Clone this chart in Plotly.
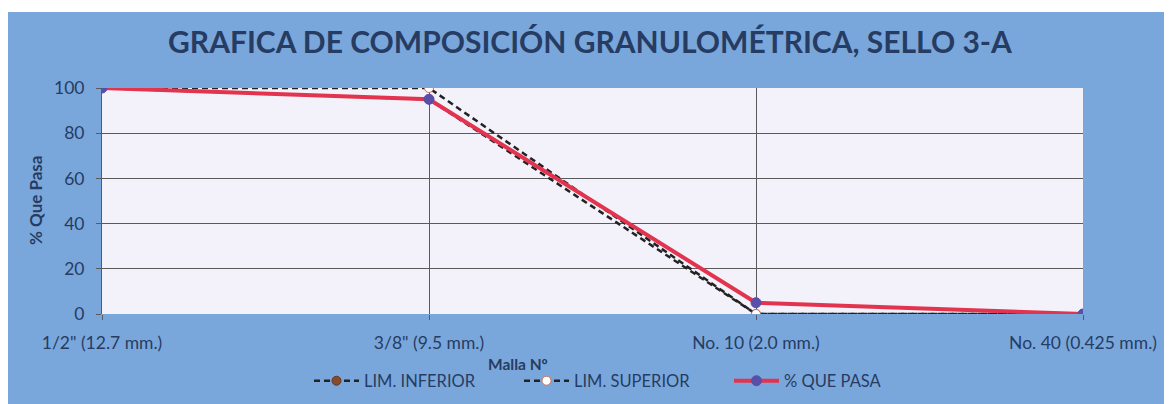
import plotly.graph_objects as go

categories = ['1/2" (12.7 mm.)', '3/8" (9.5 mm.)', 'No. 10 (2.0 mm.)', 'No. 40 (0.425 mm.)']
lim_inferior = [100, 95, 0, 0]
lim_superior = [100, 100, 0, 0]
que_pasa = [100, 95, 5, 0]
y_ticks = [0, 20, 40, 60, 80, 100]

# figure is placed by the page at (8, 8); sizes below are figure pixels
W, H = 1164, 396
ML, MR, MT, MB = 94, 89, 80, 90
PW, PH = W - ML - MR, H - MT - MB

BLUE = "#7aa7db"
NAVY = "#263c62"
FONT = "Lato"

xs = list(range(len(categories)))

fig = go.Figure()
fig.add_trace(go.Scatter(
    x=xs, y=lim_inferior, name="LIM. INFERIOR", mode="lines+markers",
    line=dict(color="#222222", width=2.5, dash="6px,4px"),
    marker=dict(color="#8a4b2a", size=9, line=dict(color="#5a3a2a", width=1)),
    legendrank=1,
))
fig.add_trace(go.Scatter(
    x=xs, y=lim_superior, name="LIM. SUPERIOR", mode="lines+markers",
    line=dict(color="#222222", width=2.5, dash="6px,4px"),
    marker=dict(color="#ffffff", size=9, line=dict(color="#c87060", width=1)),
    legendrank=2,
))
fig.add_trace(go.Scatter(
    x=xs, y=que_pasa, name="% QUE PASA", mode="lines+markers",
    line=dict(color="#e3344f", width=4),
    marker=dict(color="#5a4fa8", size=10, line=dict(color="#5a4fa8", width=1)),
    legendrank=3,
))

annotations = [
    dict(x=(510 - ML) / PW, y=-(356 - (H - MB)) / PH, xref="paper", yref="paper",
         text="<b>Malla Nº</b>", showarrow=False, xanchor="center", yanchor="middle",
         font=dict(family=FONT, size=15.5, color=NAVY)),
    dict(x=-(ML - 27) / PW, y=0.5, xref="paper", yref="paper",
         text="<b>% Que Pasa</b>", textangle=-90, showarrow=False,
         xanchor="center", yanchor="middle",
         font=dict(family=FONT, size=17, color=NAVY)),
]

fig.update_layout(
    width=W, height=H,
    margin=dict(l=ML, r=MR, t=MT, b=MB, autoexpand=False),
    paper_bgcolor=BLUE,
    plot_bgcolor="#f3f1f9",
    title=dict(text="<b>GRAFICA DE COMPOSICIÓN GRANULOMÉTRICA, SELLO 3-A</b>",
               x=0.5, xanchor="center", y=1 - 34 / H, yanchor="middle",
               font=dict(family=FONT, size=30, color=NAVY)),
    xaxis=dict(range=[0, len(categories) - 1], tickvals=xs, ticktext=categories,
               showgrid=True, gridcolor="#5a5a5a", gridwidth=1,
               zeroline=False, showline=False, automargin=False,
               ticks="outside", ticklen=5, tickcolor="#5a5a5a",
               ticklabelstandoff=8,
               tickfont=dict(family=FONT, size=17.5, color=NAVY)),
    yaxis=dict(range=[0, 100], tickvals=y_ticks, showgrid=True,
               gridcolor="#5a5a5a", gridwidth=1, zeroline=False,
               showline=True, linecolor="#5a5a5a", linewidth=1, automargin=False,
               ticks="outside", ticklen=5, tickcolor="#5a5a5a",
               ticklabelstandoff=8,
               tickfont=dict(family=FONT, size=17.5, color=NAVY)),
    showlegend=True,
    legend=dict(orientation="h", xref="container", yref="container",
                x=(314 - 8 - 5) / W, xanchor="left",
                y=(H - 373) / H, yanchor="middle",
                bgcolor="rgba(0,0,0,0)",
                font=dict(family=FONT, size=16.5, color=NAVY),
                itemwidth=45, entrywidth=150, entrywidthmode="pixels"),
    annotations=annotations,
    shapes=[dict(type="rect", xref="paper", yref="paper",
                 x0=-ML / PW - 0.01, x1=1 + MR / PW + 0.01,
                 y0=1 + (MT - 4) / PH, y1=1 + MT / PH + 0.01,
                 fillcolor="#ffffff", line=dict(width=0), layer="below")],
)

fig.write_html("out.html")
